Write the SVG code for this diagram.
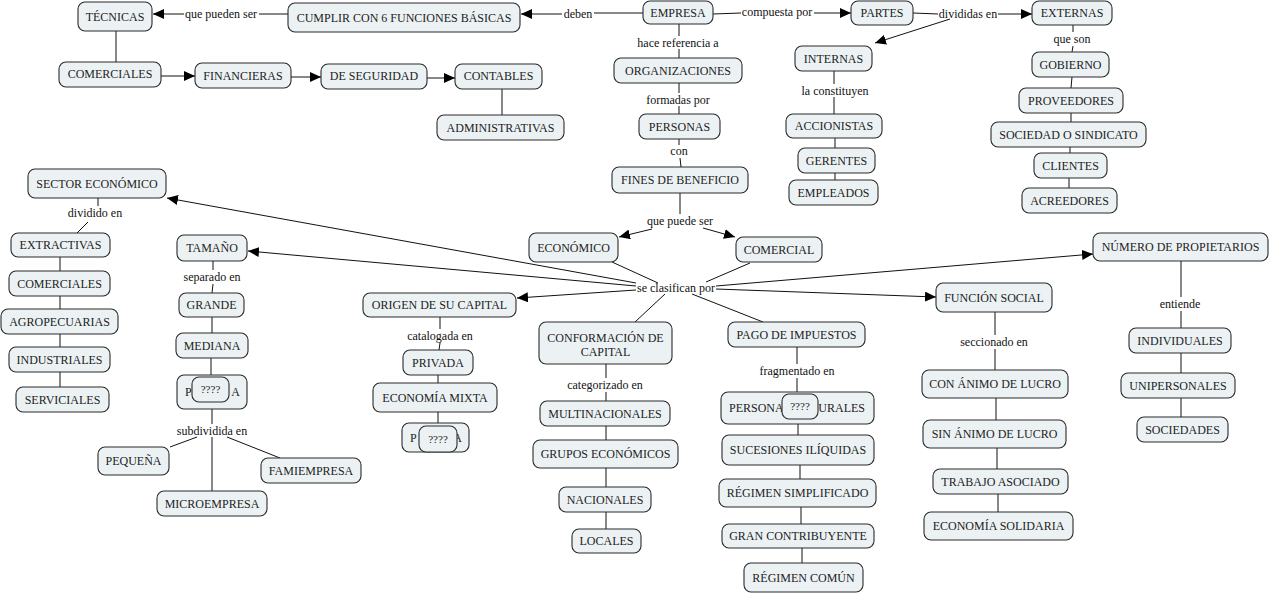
<svg xmlns="http://www.w3.org/2000/svg" width="1270" height="594" viewBox="0 0 1270 594">
<style>
.n rect{fill:#ECF2F4;stroke:#2a2a2a;stroke-width:1.1}
.n text{font-family:"Liberation Serif","Times New Roman",serif;font-size:12px;fill:#222;text-anchor:middle}
.n text.s{text-anchor:start}
.n text.e{text-anchor:end}
.n text.q{font-size:11px}
.lb text{font-family:"Liberation Serif","Times New Roman",serif;font-size:12px;fill:#111;text-anchor:middle}
.c line{stroke:#111;stroke-width:1}
.c line.a{marker-end:url(#ah)}
</style>
<defs>
<marker id="ah" markerUnits="userSpaceOnUse" markerWidth="12" markerHeight="10" refX="11" refY="5" orient="auto">
<path d="M0,0 L11,5 L0,10 z" fill="#000"/>
</marker>
</defs>
<rect width="1270" height="594" fill="#fff"/>
<g id="connectors" class="c">
<line x1="288" y1="14" x2="259" y2="14"/>
<line class="a" x1="184" y1="14" x2="153" y2="14"/>
<line x1="643" y1="13" x2="594" y2="13"/>
<line class="a" x1="562" y1="14" x2="521" y2="14"/>
<line x1="713" y1="14" x2="741" y2="13"/>
<line class="a" x1="814" y1="13" x2="851" y2="13"/>
<line x1="913" y1="13" x2="938" y2="14"/>
<line class="a" x1="998" y1="14" x2="1032" y2="14"/>
<line class="a" x1="950" y1="19" x2="875" y2="43"/>
<line x1="116" y1="31" x2="116" y2="62"/>
<line class="a" x1="161" y1="76" x2="195" y2="76"/>
<line class="a" x1="291" y1="77" x2="321" y2="77"/>
<line class="a" x1="427" y1="78" x2="455" y2="78"/>
<line x1="502" y1="89" x2="502" y2="115"/>
<line x1="679" y1="24" x2="679" y2="36"/>
<line x1="679" y1="49" x2="679" y2="58"/>
<line x1="679" y1="83" x2="679" y2="93"/>
<line x1="679" y1="106" x2="679" y2="114"/>
<line x1="679" y1="139" x2="679" y2="145"/>
<line x1="680" y1="158" x2="681" y2="167"/>
<line x1="680" y1="193" x2="680" y2="214"/>
<line class="a" x1="652" y1="229" x2="619" y2="237"/>
<line class="a" x1="703" y1="228" x2="735" y2="237"/>
<line x1="834" y1="71" x2="834" y2="84"/>
<line x1="834" y1="97" x2="834" y2="114"/>
<line x1="835" y1="138" x2="835" y2="148"/>
<line x1="835" y1="173" x2="835" y2="180"/>
<line x1="1073" y1="25" x2="1073" y2="32"/>
<line x1="1073" y1="46" x2="1072" y2="52"/>
<line x1="1072" y1="77" x2="1071" y2="88"/>
<line x1="1071" y1="113" x2="1071" y2="122"/>
<line x1="1070" y1="147" x2="1070" y2="153"/>
<line x1="1069" y1="178" x2="1069" y2="188"/>
<line x1="612" y1="262" x2="658" y2="283"/>
<line x1="750" y1="263" x2="706" y2="282"/>
<line class="a" x1="636" y1="283" x2="167" y2="198"/>
<line class="a" x1="636" y1="286" x2="248" y2="251"/>
<line class="a" x1="636" y1="290" x2="517" y2="298"/>
<line x1="665" y1="294" x2="635" y2="322"/>
<line x1="692" y1="294" x2="763" y2="322"/>
<line class="a" x1="716" y1="289" x2="936" y2="297"/>
<line class="a" x1="716" y1="286" x2="1093" y2="254"/>
<line x1="98" y1="198" x2="98" y2="206"/>
<line x1="88" y1="222" x2="77" y2="233"/>
<line x1="60" y1="257" x2="60" y2="271"/>
<line x1="60" y1="296" x2="60" y2="309"/>
<line x1="60" y1="334" x2="60" y2="347"/>
<line x1="60" y1="372" x2="60" y2="387"/>
<line x1="213" y1="261" x2="213" y2="270"/>
<line x1="213" y1="284" x2="212" y2="293"/>
<line x1="212" y1="317" x2="212" y2="333"/>
<line x1="211" y1="358" x2="211" y2="375"/>
<line x1="212" y1="409" x2="212" y2="424"/>
<line x1="197" y1="437" x2="170" y2="447"/>
<line x1="212" y1="437" x2="212" y2="491"/>
<line x1="227" y1="437" x2="280" y2="458"/>
<line x1="440" y1="317" x2="440" y2="329"/>
<line x1="440" y1="343" x2="439" y2="350"/>
<line x1="438" y1="375" x2="438" y2="383"/>
<line x1="438" y1="412" x2="438" y2="423"/>
<line x1="606" y1="364" x2="606" y2="378"/>
<line x1="606" y1="392" x2="606" y2="401"/>
<line x1="606" y1="426" x2="606" y2="440"/>
<line x1="606" y1="468" x2="606" y2="487"/>
<line x1="606" y1="512" x2="606" y2="529"/>
<line x1="797" y1="347" x2="797" y2="364"/>
<line x1="797" y1="378" x2="797" y2="392"/>
<line x1="798" y1="424" x2="798" y2="435"/>
<line x1="800" y1="465" x2="800" y2="479"/>
<line x1="801" y1="507" x2="801" y2="524"/>
<line x1="802" y1="548" x2="802" y2="563"/>
<line x1="995" y1="312" x2="995" y2="335"/>
<line x1="995" y1="349" x2="995" y2="370"/>
<line x1="996" y1="398" x2="996" y2="420"/>
<line x1="997" y1="448" x2="997" y2="469"/>
<line x1="998" y1="494" x2="998" y2="512"/>
<line x1="1181" y1="261" x2="1181" y2="297"/>
<line x1="1181" y1="311" x2="1181" y2="328"/>
<line x1="1181" y1="353" x2="1181" y2="373"/>
<line x1="1181" y1="398" x2="1181" y2="417"/>
</g>
<g id="labels" class="lb">
<text x="221" y="18">que pueden ser</text>
<text x="578" y="18">deben</text>
<text x="777" y="16">compuesta por</text>
<text x="968" y="18">divididas en</text>
<text x="678" y="47">hace referencia a</text>
<text x="678" y="104">formadas por</text>
<text x="679" y="155">con</text>
<text x="835" y="95">la constituyen</text>
<text x="1072" y="43">que son</text>
<text x="95" y="217">dividido en</text>
<text x="680" y="225">que puede ser</text>
<text x="676" y="292">se clasifican por</text>
<text x="212" y="281">separado en</text>
<text x="440" y="340">catalogada en</text>
<text x="605" y="389">categorizado en</text>
<text x="797" y="375">fragmentado en</text>
<text x="994" y="346">seccionado en</text>
<text x="1180" y="308">entiende</text>
<text x="212" y="435">subdividida en</text>
</g>
<g id="n-tecnicas" class="n"><rect x="78" y="2" width="74" height="29" rx="7"/><text x="115" y="21">TÉCNICAS</text></g>
<g id="n-cumplir" class="n"><rect x="288" y="3" width="232" height="29" rx="7"/><text x="404" y="22">CUMPLIR CON 6 FUNCIONES BÁSICAS</text></g>
<g id="n-empresa" class="n"><rect x="643" y="1" width="70" height="23" rx="7"/><text x="678" y="17">EMPRESA</text></g>
<g id="n-partes" class="n"><rect x="851" y="1" width="62" height="24" rx="7"/><text x="882" y="17">PARTES</text></g>
<g id="n-externas" class="n"><rect x="1032" y="1" width="80" height="24" rx="7"/><text x="1072" y="17">EXTERNAS</text></g>
<g id="n-comerciales1" class="n"><rect x="59" y="62" width="102" height="25" rx="7"/><text x="110" y="78">COMERCIALES</text></g>
<g id="n-financieras" class="n"><rect x="195" y="63" width="96" height="25" rx="7"/><text x="243" y="80">FINANCIERAS</text></g>
<g id="n-seguridad" class="n"><rect x="321" y="64" width="106" height="25" rx="7"/><text x="374" y="80">DE SEGURIDAD</text></g>
<g id="n-contables" class="n"><rect x="455" y="64" width="87" height="25" rx="7"/><text x="498.5" y="80">CONTABLES</text></g>
<g id="n-administrativas" class="n"><rect x="437" y="115" width="127" height="25" rx="7"/><text x="500.5" y="132">ADMINISTRATIVAS</text></g>
<g id="n-organizaciones" class="n"><rect x="614" y="58" width="128" height="25" rx="7"/><text x="678" y="75">ORGANIZACIONES</text></g>
<g id="n-personas" class="n"><rect x="639" y="114" width="81" height="25" rx="7"/><text x="679.5" y="131">PERSONAS</text></g>
<g id="n-fines" class="n"><rect x="612" y="167" width="136" height="26" rx="7"/><text x="680" y="184">FINES DE BENEFICIO</text></g>
<g id="n-internas" class="n"><rect x="795" y="46" width="77" height="25" rx="7"/><text x="833.5" y="63">INTERNAS</text></g>
<g id="n-accionistas" class="n"><rect x="786" y="114" width="96" height="24" rx="7"/><text x="834" y="130">ACCIONISTAS</text></g>
<g id="n-gerentes" class="n"><rect x="798" y="148" width="77" height="25" rx="7"/><text x="836.5" y="165">GERENTES</text></g>
<g id="n-empleados" class="n"><rect x="789" y="180" width="89" height="25" rx="7"/><text x="833.5" y="197">EMPLEADOS</text></g>
<g id="n-gobierno" class="n"><rect x="1032" y="52" width="77" height="25" rx="7"/><text x="1070.5" y="69">GOBIERNO</text></g>
<g id="n-proveedores" class="n"><rect x="1019" y="88" width="104" height="25" rx="7"/><text x="1071" y="105">PROVEEDORES</text></g>
<g id="n-sociedad" class="n"><rect x="991" y="122" width="155" height="25" rx="7"/><text x="1068.5" y="139">SOCIEDAD O SINDICATO</text></g>
<g id="n-clientes" class="n"><rect x="1034" y="153" width="73" height="25" rx="7"/><text x="1070.5" y="170">CLIENTES</text></g>
<g id="n-acreedores" class="n"><rect x="1022" y="188" width="95" height="25" rx="7"/><text x="1069.5" y="205">ACREEDORES</text></g>
<g id="n-sector" class="n"><rect x="28" y="169" width="138" height="29" rx="7"/><text x="97" y="188">SECTOR ECONÓMICO</text></g>
<g id="n-extractivas" class="n"><rect x="11" y="233" width="99" height="24" rx="7"/><text x="60.5" y="249">EXTRACTIVAS</text></g>
<g id="n-comerciales2" class="n"><rect x="9" y="271" width="101" height="25" rx="7"/><text x="59.5" y="288">COMERCIALES</text></g>
<g id="n-agropecuarias" class="n"><rect x="1" y="309" width="117" height="25" rx="7"/><text x="59.5" y="326">AGROPECUARIAS</text></g>
<g id="n-industriales" class="n"><rect x="9" y="347" width="101" height="25" rx="7"/><text x="59.5" y="364">INDUSTRIALES</text></g>
<g id="n-serviciales" class="n"><rect x="16" y="387" width="93" height="25" rx="7"/><text x="62.5" y="404">SERVICIALES</text></g>
<g id="n-tamano" class="n"><rect x="177" y="235" width="70" height="26" rx="7"/><text x="212" y="252">TAMAÑO</text></g>
<g id="n-grande" class="n"><rect x="179" y="293" width="65" height="24" rx="7"/><text x="211.5" y="309">GRANDE</text></g>
<g id="n-mediana" class="n"><rect x="176" y="333" width="72" height="25" rx="7"/><text x="212" y="350">MEDIANA</text></g>
<g id="n-pequena-oculta" class="n"><rect x="177" y="375" width="70" height="34" rx="7"/><text class="s" x="185" y="396">P</text><text class="e" x="240" y="396">A</text><rect x="192" y="377" width="37" height="25" rx="7"/><text class="q" x="210.5" y="393">????</text></g>
<g id="n-pequena" class="n"><rect x="98" y="447" width="71" height="28" rx="7"/><text x="133.5" y="465">PEQUEÑA</text></g>
<g id="n-famiempresa" class="n"><rect x="261" y="458" width="100" height="25" rx="7"/><text x="311" y="475">FAMIEMPRESA</text></g>
<g id="n-microempresa" class="n"><rect x="157" y="491" width="110" height="25" rx="7"/><text x="212" y="508">MICROEMPRESA</text></g>
<g id="n-economico" class="n"><rect x="529" y="233" width="89" height="29" rx="7"/><text x="573.5" y="252">ECONÓMICO</text></g>
<g id="n-comercial" class="n"><rect x="736" y="237" width="86" height="25" rx="7"/><text x="779" y="254">COMERCIAL</text></g>
<g id="n-origen" class="n"><rect x="363" y="293" width="153" height="24" rx="7"/><text x="439.5" y="309">ORIGEN DE SU CAPITAL</text></g>
<g id="n-conformacion" class="n"><rect x="539" y="322" width="133" height="42" rx="7"/><text x="605.5" y="342">CONFORMACIÓN DE</text><text x="605.5" y="356">CAPITAL</text></g>
<g id="n-pago" class="n"><rect x="728" y="322" width="137" height="25" rx="7"/><text x="796.5" y="339">PAGO DE IMPUESTOS</text></g>
<g id="n-funcion" class="n"><rect x="936" y="283" width="116" height="29" rx="7"/><text x="994" y="302">FUNCIÓN SOCIAL</text></g>
<g id="n-numero" class="n"><rect x="1093" y="233" width="175" height="28" rx="7"/><text x="1180.5" y="251">NÚMERO DE PROPIETARIOS</text></g>
<g id="n-privada" class="n"><rect x="403" y="350" width="70" height="25" rx="7"/><text x="438" y="367">PRIVADA</text></g>
<g id="n-mixta" class="n"><rect x="373" y="383" width="124" height="29" rx="7"/><text x="435" y="402">ECONOMÍA MIXTA</text></g>
<g id="n-publica-oculta" class="n"><rect x="402" y="423" width="67" height="29" rx="7"/><text class="s" x="410" y="442">P</text><text class="e" x="462" y="442">A</text><rect x="419" y="426" width="38" height="26" rx="7"/><text class="q" x="438" y="443">????</text></g>
<g id="n-multinacionales" class="n"><rect x="540" y="401" width="130" height="25" rx="7"/><text x="605" y="418">MULTINACIONALES</text></g>
<g id="n-grupos" class="n"><rect x="533" y="440" width="145" height="28" rx="7"/><text x="605.5" y="458">GRUPOS ECONÓMICOS</text></g>
<g id="n-nacionales" class="n"><rect x="559" y="487" width="92" height="25" rx="7"/><text x="605" y="504">NACIONALES</text></g>
<g id="n-locales" class="n"><rect x="572" y="529" width="69" height="24" rx="7"/><text x="606.5" y="545">LOCALES</text></g>
<g id="n-personas-naturales" class="n"><rect x="721" y="392" width="153" height="32" rx="7"/><text class="s" x="729" y="412">PERSONA</text><text class="e" x="865" y="412">URALES</text><rect x="782" y="394" width="36" height="25" rx="7"/><text class="q" x="800" y="410">????</text></g>
<g id="n-sucesiones" class="n"><rect x="722" y="435" width="152" height="30" rx="7"/><text x="798" y="454">SUCESIONES ILÍQUIDAS</text></g>
<g id="n-simplificado" class="n"><rect x="719" y="479" width="157" height="28" rx="7"/><text x="797.5" y="497">RÉGIMEN SIMPLIFICADO</text></g>
<g id="n-gran" class="n"><rect x="722" y="524" width="152" height="24" rx="7"/><text x="798" y="540">GRAN CONTRIBUYENTE</text></g>
<g id="n-comun" class="n"><rect x="744" y="563" width="119" height="29" rx="7"/><text x="803.5" y="582">RÉGIMEN COMÚN</text></g>
<g id="n-con-animo" class="n"><rect x="922" y="370" width="146" height="28" rx="7"/><text x="995" y="388">CON ÁNIMO DE LUCRO</text></g>
<g id="n-sin-animo" class="n"><rect x="923" y="420" width="143" height="28" rx="7"/><text x="994.5" y="438">SIN ÁNIMO DE LUCRO</text></g>
<g id="n-trabajo" class="n"><rect x="933" y="469" width="135" height="25" rx="7"/><text x="1000.5" y="486">TRABAJO ASOCIADO</text></g>
<g id="n-solidaria" class="n"><rect x="924" y="512" width="149" height="28" rx="7"/><text x="998.5" y="530">ECONOMÍA SOLIDARIA</text></g>
<g id="n-individuales" class="n"><rect x="1129" y="328" width="102" height="25" rx="7"/><text x="1180" y="345">INDIVIDUALES</text></g>
<g id="n-unipersonales" class="n"><rect x="1121" y="373" width="114" height="25" rx="7"/><text x="1178" y="390">UNIPERSONALES</text></g>
<g id="n-sociedades" class="n"><rect x="1137" y="417" width="91" height="25" rx="7"/><text x="1182.5" y="434">SOCIEDADES</text></g>
</svg>
